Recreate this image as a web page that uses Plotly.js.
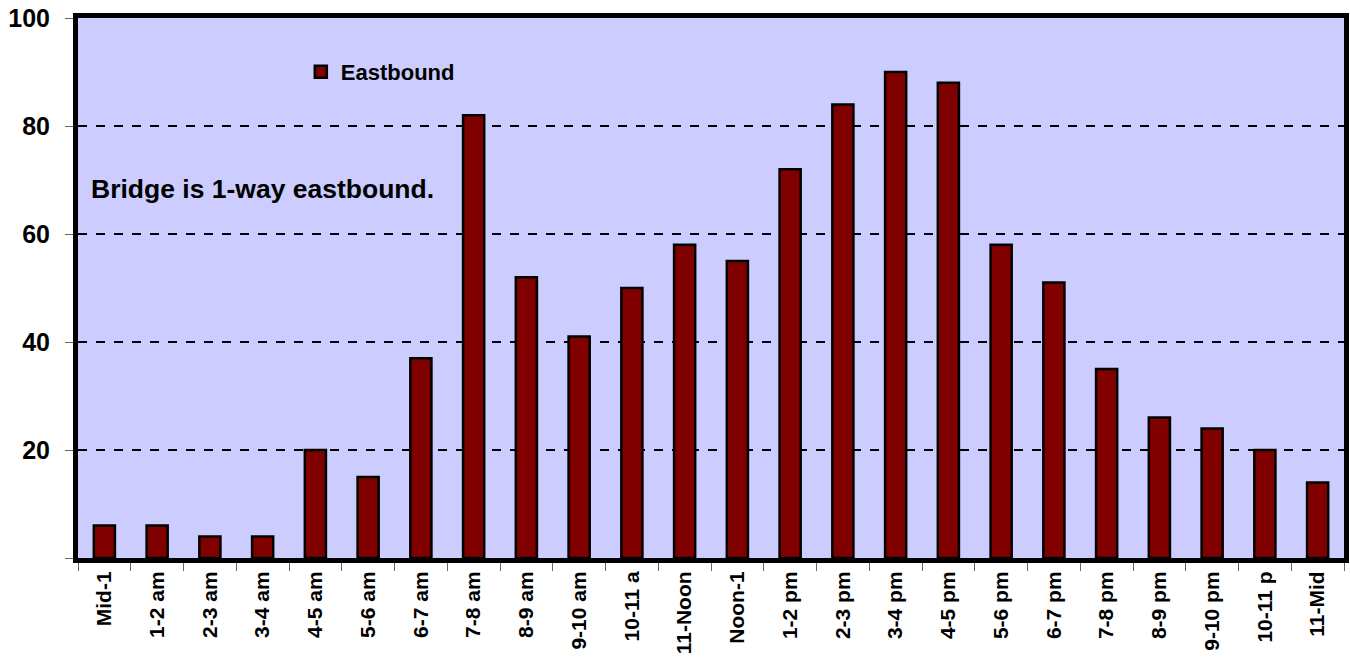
<!DOCTYPE html>
<html>
<head>
<meta charset="utf-8">
<script src="https://cdn.plot.ly/plotly-3.0.1.min.js"></script>
<style>html,body{margin:0;padding:0;background:#fff;}#chart{width:1350px;height:664px;}</style>
</head>
<body>
<div id="chart"></div>
<script>
const categories = ["Mid-1","1-2 am","2-3 am","3-4 am","4-5 am","5-6 am","6-7 am","7-8 am","8-9 am","9-10 am","10-11 a","11-Noon","Noon-1","1-2 pm","2-3 pm","3-4 pm","4-5 pm","5-6 pm","6-7 pm","7-8 pm","8-9 pm","9-10 pm","10-11 p","11-Mid"];
const eastbound = [6,6,4,4,20,15,37,82,52,41,50,58,55,72,84,90,88,58,51,35,26,24,20,14];
const yTickVals = [0,20,40,60,80,100];
const yTickText = ["","20","40","60","80","100"];
const seriesName = "Eastbound";
const noteText = "Bridge is 1-way eastbound.";

const FONT = "'Liberation Sans', Arial, sans-serif";

const trace = {
  type: "bar",
  x: categories,
  y: eastbound,
  name: seriesName,
  marker: {color: "#800000", line: {color: "#000000", width: 2.5}},
  showlegend: true
};

const layout = {
  width: 1350, height: 664,
  margin: {l: 78, r: 6, t: 18, b: 106, pad: 0},
  paper_bgcolor: "#ffffff",
  plot_bgcolor: "#ccccff",
  bargap: 0.6,
  font: {family: FONT, color: "#000", weight: "bold"},
  showlegend: true,
  legend: {
    x: 0.176, y: 0.9, xanchor: "left", yanchor: "middle",
    bgcolor: "rgba(0,0,0,0)",
    font: {family: FONT, size: 22, color: "#000", weight: "bold"},
    itemwidth: 30, tracegroupgap: 0
  },
  xaxis: {
    type: "category",
    range: [-0.5, 23.5],
    showline: true, linecolor: "#000", linewidth: 5, mirror: true,
    ticks: "outside", tickson: "boundaries", ticklen: 8, tickcolor: "#666", tickwidth: 1,
    tickangle: -90,
    tickfont: {family: FONT, size: 21, color: "#000", weight: "bold"},
    showgrid: false, zeroline: false
  },
  yaxis: {
    range: [0, 100],
    tickmode: "array", tickvals: yTickVals, ticktext: yTickText,
    showline: true, linecolor: "#000", linewidth: 5, mirror: true,
    ticks: "outside", ticklen: 8, tickcolor: "#666", tickwidth: 1,
    ticklabelstandoff: 10,
    tickfont: {family: FONT, size: 25, color: "#000", weight: "bold"},
    showgrid: true, gridcolor: "#000", gridwidth: 1.5, griddash: "dash",
    zeroline: false
  },
  annotations: [{
    xref: "paper", yref: "paper", x: 0.0085, y: 0.683,
    xanchor: "left", yanchor: "middle", showarrow: false,
    text: noteText,
    font: {family: FONT, size: 26.5, color: "#000", weight: "bold"}
  }]
};

Plotly.newPlot("chart", [trace], layout, {displayModeBar: false, staticPlot: true});
</script>
</body>
</html>
